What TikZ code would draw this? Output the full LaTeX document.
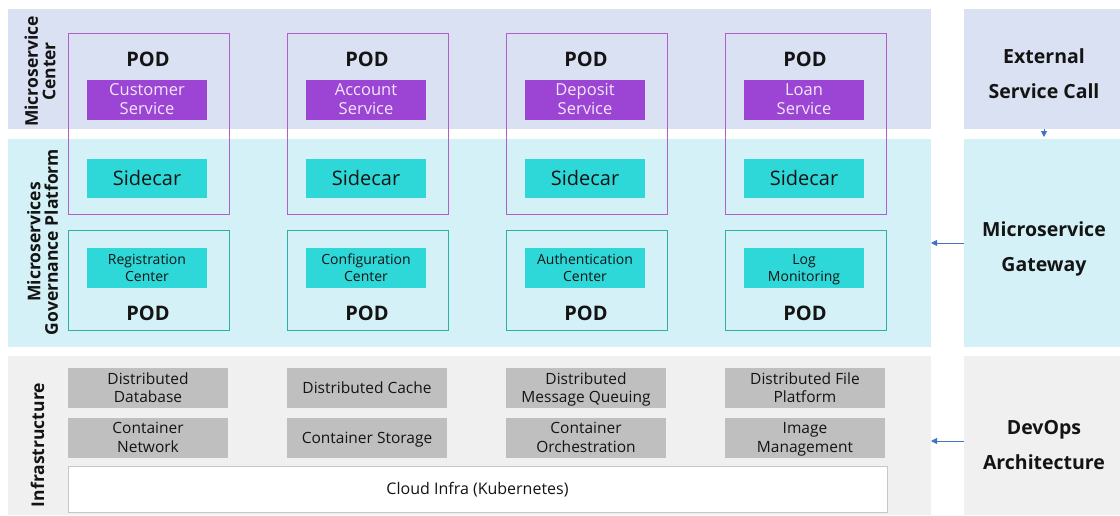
\documentclass[tikz,border=0pt]{standalone}
\usepackage{fontspec}
\setmainfont{Open Sans}
\usetikzlibrary{arrows.meta,calc}
\definecolor{bandtop}{HTML}{DAE1F3}
\definecolor{bandgov}{HTML}{D3F1F6}
\definecolor{bandinf}{HTML}{F0F0F0}
\definecolor{podpurple}{HTML}{B060C8}
\definecolor{svcpurple}{HTML}{9C45D5}
\definecolor{svctext}{HTML}{F2E8FB}
\definecolor{cyanbox}{HTML}{2ED8D8}
\definecolor{podteal}{HTML}{2BB0A6}
\definecolor{graybox}{HTML}{BFBFBF}
\definecolor{arrowblue}{HTML}{4472C4}
\definecolor{txt}{HTML}{141414}
% text boxes spanning from cap top of first line to baseline of last line
\newcommand\capr{\rule{0pt}{0.714em}}
\newcommand\tl[2]{\vbox{\halign{\hfil##\hfil\cr\smash{#1}\capr\cr\smash{#2}\cr}}}
\newcommand\ol[1]{\smash{#1}\capr}
\begin{document}
\begin{tikzpicture}[x=1pt,y=-1pt,
  every node/.style={inner sep=0pt,outer sep=0pt,text=txt},
  sz/.style 2 args={minimum width=#1pt,minimum height=#2pt},
  band/.style={fill=#1,draw=none},
  podbox/.style={draw=podpurple,line width=0.9pt,sz={161}{181}},
  govpod/.style={draw=podteal,line width=0.9pt,sz={161}{100}},
  svcbox/.style={fill=svcpurple,sz={120}{40},text=svctext,font=\fontsize{16.5}{19}\selectfont},
  sidecarbox/.style={fill=cyanbox,sz={120}{39},font=\fontsize{20}{24}\selectfont},
  govbox/.style={fill=cyanbox,sz={120}{40},font=\fontsize{14}{16.5}\selectfont},
  podlabel/.style={font=\fontsize{20}{24}\selectfont\bfseries},
  infbox/.style={fill=graybox,sz={160}{40},font=\fontsize{15.5}{18.5}\selectfont},
  sidelabel/.style={rotate=90,font=\fontsize{17.5}{17.5}\selectfont\bfseries},
  rightlabel/.style={font=\fontsize{19.5}{35.5}\selectfont\bfseries},
  conn/.style={draw=arrowblue,line width=0.8pt,-{Triangle[width=6pt,length=6pt]}}
]
\useasboundingbox (0,0) rectangle (1120,515);
\fill[white] (0,0) rectangle (1120,515);
% bands
\node[band=bandtop,sz={923}{120}] (bandA) at (469.5,69) {};
\node[band=bandgov,sz={923}{208}] (bandB) at (469.5,243) {};
\node[band=bandinf,sz={923}{159}] (bandC) at (469.5,435.5) {};
\node[band=bandtop,sz={156}{120}] (ext) at (1042,69) {};
\node[band=bandgov,sz={156}{208}] (gw) at (1042,243) {};
\node[band=bandinf,sz={156}{159}] (dev) at (1042,435.5) {};
% side labels
\node[sidelabel] (lblA) at (40.5,71.5) {\tl{Microservice}{Center}};
\node[sidelabel] (lblB) at (43,242) {\tl{Microservices}{Governance Platform}};
\node[sidelabel] (lblC) at (38,445) {\ol{Infrastructure}};
% right labels
\node[rightlabel] (extT) at (1044,74) {\tl{External}{Service Call}};
\node[rightlabel] (gwT) at (1044,247) {\tl{Microservice}{Gateway}};
\node[rightlabel] (devT) at (1044,445) {\tl{DevOps}{Architecture}};
% columns
\foreach \i/\sa/\sb/\ga/\gb in {
  0/Customer/Service/Registration/Center,
  1/Account/Service/Configuration/Center,
  2/Deposit/Service/Authentication/Center,
  3/Loan/Service/Log/Monitoring}
{
  \pgfmathsetmacro\dx{219*\i}
  \node[podbox] (pod\i) at (148.5+\dx,123.5) {};
  \node[podlabel] (podT\i) at (148+\dx,59) {\ol{POD}};
  \node[svcbox] (svc\i) at (147+\dx,99.5) {\tl{\sa}{\sb}};
  \node[sidecarbox] (side\i) at (147+\dx,178.5) {\ol{Sidecar}};
  \node[govpod] (gpod\i) at (148.5+\dx,280) {};
  \node[govbox] (gov\i) at (147+\dx,268) {\tl{\ga}{\gb}};
  \node[podlabel] (gpodT\i) at (148+\dx,313.5) {\ol{POD}};
}
% infrastructure
\node[infbox] (infa0) at (148,388) {\tl{Distributed}{Database}};
\node[infbox] (infa1) at (367,388) {\ol{Distributed Cache}};
\node[infbox] (infa2) at (586,388) {\tl{Distributed}{Message Queuing}};
\node[infbox] (infa3) at (805,388) {\tl{Distributed File}{Platform}};
\node[infbox] (infb0) at (148,437.5) {\tl{Container}{Network}};
\node[infbox] (infb1) at (367,437.5) {\ol{Container Storage}};
\node[infbox] (infb2) at (586,437.5) {\tl{Container}{Orchestration}};
\node[infbox] (infb3) at (805,437.5) {\tl{Image}{Management}};
\node[fill=white,draw=black!22,line width=0.8pt,sz={819}{46},font=\fontsize{16}{19}\selectfont] (cloud) at (477.5,489) {\ol{Cloud Infra (Kubernetes)}};
% connectors
\coordinate (a1) at (1044,129);
\coordinate (a1e) at (1044,137);
\draw[conn] (a1) -- (a1e);
\draw[conn] (gw.west) -- (bandB.east);
\coordinate (a3) at (964,441);
\draw[conn] (a3) -- (bandC.east |- a3);
\end{tikzpicture}
\end{document}
